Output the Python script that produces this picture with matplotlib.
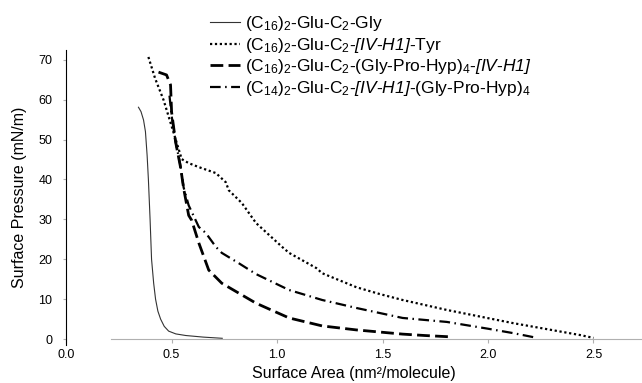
import numpy as np
import matplotlib
matplotlib.use("Agg")
import matplotlib.pyplot as plt

plt.rcParams['font.family'] = ['Liberation Sans', 'DejaVu Sans']
plt.rcParams['mathtext.fontset'] = 'custom'
plt.rcParams['mathtext.rm'] = 'Liberation Sans'
plt.rcParams['mathtext.it'] = 'Liberation Sans:italic'
# 'it' keeps digits upright, so the italic peptide tags go through 'sf'
plt.rcParams['mathtext.sf'] = 'Liberation Sans:italic'

# isotherm data (area in nm^2/molecule, pressure in mN/m)
gly_area = [0.343, 0.355, 0.367, 0.376, 0.384, 0.39, 0.398, 0.405, 0.415, 0.424,
            0.435, 0.448, 0.465, 0.486, 0.52, 0.567, 0.65, 0.74]
gly_pres = [58.1, 57, 54.9, 52, 46, 40, 30, 20, 14, 10, 7, 5, 3.2, 2, 1.3, 0.9,
            0.5, 0.2]

tyr_area = [0.39, 0.422, 0.462, 0.519, 0.548, 0.581, 0.629, 0.71, 0.757, 0.771,
            0.833, 0.9, 1.024, 1.057, 1.186, 1.214, 1.376, 1.486, 1.595, 1.805,
            2.119, 2.438, 2.5]
tyr_pres = [70.7, 65.3, 59.9, 50.1, 45.1, 44.1, 43.1, 41.6, 39.3, 37.3, 34.1,
            29.1, 23.1, 21.6, 17.8, 16.5, 13, 11.3, 9.8, 7.3, 4, 1, 0.3]

gph_area = [0.438, 0.476, 0.495, 0.5, 0.519, 0.543, 0.557, 0.581, 0.595, 0.629,
            0.676, 0.738, 0.9, 1.057, 1.214, 1.376, 1.595, 1.7, 1.81]
gph_pres = [66.9, 66.2, 63.7, 56.9, 49.4, 42.9, 37.8, 31, 29.8, 24.1, 17.3, 14,
            9, 5.3, 3.3, 2.3, 1.25, 0.9, 0.6]

c14_area = [0.49, 0.5, 0.517, 0.54, 0.557, 0.581, 0.629, 0.662, 0.71, 0.738,
            0.819, 0.9, 1.057, 1.214, 1.376, 1.595, 1.805, 2.0, 2.119, 2.214]
c14_pres = [61, 56, 50, 44, 38, 33.5, 28.1, 26.6, 23.1, 21.6, 19, 16.3, 12.3,
            9.8, 7.8, 5.3, 4.3, 2.6, 1.5, 0.5]

labels = [
    r'(C$_{16}$)$_2$-Glu-C$_2$-Gly',
    r'(C$_{16}$)$_2$-Glu-C$_2$-$\mathsf{[IV}$-$\mathsf{H1]}$-Tyr',
    r'(C$_{16}$)$_2$-Glu-C$_2$-(Gly-Pro-Hyp)$_4$-$\mathsf{[IV}$-$\mathsf{H1]}$',
    r'(C$_{14}$)$_2$-Glu-C$_2$-$\mathsf{[IV}$-$\mathsf{H1]}$-(Gly-Pro-Hyp)$_4$',
]

fig = plt.figure(figsize=(6.42, 3.83), dpi=100)
ax = fig.add_axes([0.103, 0.099, 0.897, 0.771])

ax.plot(gly_area, gly_pres, color='#333333', lw=0.8, label=labels[0])
ax.plot(tyr_area, tyr_pres, color='black', lw=1.6, ls=(0, (1, 1.2)), label=labels[1])
ax.plot(gph_area, gph_pres, color='black', lw=2.0, ls=(0, (4.6, 1.9)), label=labels[2])
ax.plot(c14_area, c14_pres, color='black', lw=1.6, ls=(0, (4.8, 2.0, 0.7, 2.0)),
        label=labels[3])

ax.set_xlim(0, 2.73)
ax.set_ylim(-1.5, 72.5)

for s in ['top', 'right']:
    ax.spines[s].set_visible(False)
ax.spines['left'].set_linewidth(0.8)
ax.spines['bottom'].set_position(('data', 0))
ax.spines['bottom'].set_bounds(0.215, 2.73)
ax.spines['bottom'].set_color('#b0b0b0')

ax.set_xticks([0.0, 0.5, 1.0, 1.5, 2.0, 2.5])
ax.set_xticklabels(['0.0', '0.5', '1.0', '1.5', '2.0', '2.5'])
ax.set_yticks(range(0, 71, 10))
ax.tick_params(axis='x', length=3, color='#b0b0b0', labelsize=9, pad=4)
ax.tick_params(axis='y', length=2, direction='out', color='#b0b0b0', labelsize=9, pad=8)

ax.set_xlabel('Surface Area (nm²/molecule)', fontsize=11.5, labelpad=4)
ax.set_ylabel('Surface Pressure (mN/m)', fontsize=11.5, labelpad=8)

fig.legend(loc='upper left', bbox_to_anchor=(0.311, 0.99), frameon=False,
           fontsize=12.5, handlelength=1.7, handletextpad=0.3, labelspacing=0.15,
           borderaxespad=0.2)

fig.savefig('out.png', dpi=100)
